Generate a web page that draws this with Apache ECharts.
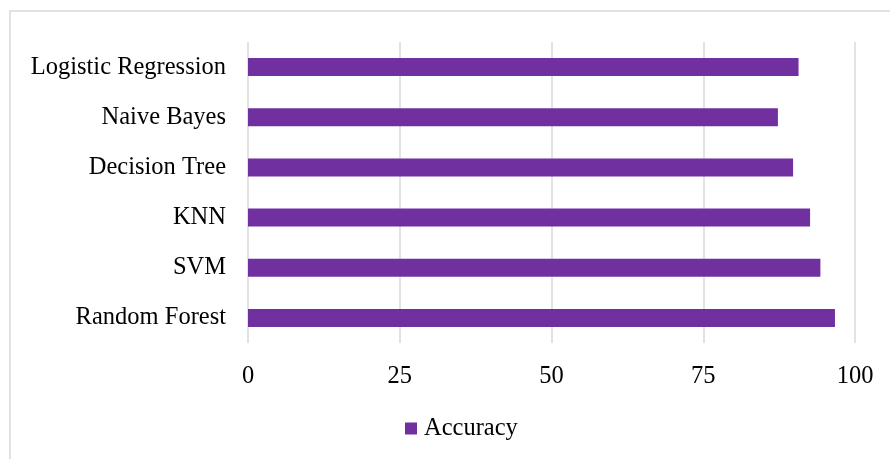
<!DOCTYPE html>
<html>
<head>
	<meta charset="UTF-8" />
	<title>Accuracy</title>
	<script src="https://cdn.jsdelivr.net/npm/echarts@6/dist/echarts.min.js"></script>
	<style type="text/css">
		html, body {
			margin: 0;
			padding: 0;
			background-color: #ffffff;
		}

		#chart {
			width: 890px;
			height: 459px;
		}
	</style>
</head>
<body>
	<div id="chart"></div>

	<script>
		// 資料
		const models = ['Random Forest', 'SVM', 'KNN', 'Decision Tree', 'Naive Bayes', 'Logistic Regression'];
		const accuracy = [96.7, 94.3, 92.6, 89.8, 87.3, 90.7];
		const xTicks = [0, 25, 50, 75, 100];

		const serif = '"Liberation Serif", "DejaVu Serif", serif';
		const purple = '#7030A0';
		const fs = 24.5;

		var chart = echarts.init(document.getElementById('chart'));

		chart.setOption({
			animation: false,
			textStyle: { fontFamily: serif },
			graphic: [{
				type: 'rect',
				shape: { x: 10, y: 11, width: 900, height: 460 },
				style: { fill: 'none', stroke: '#d9d9d9', lineWidth: 1.5 }
			}],
			grid: {
				left: 248,
				right: 35,
				top: 42,
				bottom: 116
			},
			legend: {
				top: 411,
				left: 400,
				itemWidth: 12,
				itemHeight: 12,
				itemGap: 10,
				icon: 'rect',
				textStyle: { fontFamily: serif, fontSize: fs, color: '#000', padding: [0, 0, 0, 2] },
				data: ['Accuracy']
			},
			xAxis: {
				type: 'value',
				min: xTicks[0],
				max: xTicks[xTicks.length - 1],
				interval: 25,
				axisLine: { show: false },
				axisTick: { show: false },
				axisLabel: { fontFamily: serif, fontSize: fs, color: '#000', margin: 21 },
				splitLine: { lineStyle: { color: '#d9d9d9', width: 1.5 } }
			},
			yAxis: {
				type: 'category',
				data: models,
				axisLine: { show: false },
				axisTick: { show: false },
				axisLabel: { fontFamily: serif, fontSize: fs, color: '#000', margin: 22 }
			},
			series: [{
				name: 'Accuracy',
				type: 'bar',
				data: accuracy,
				barWidth: 18,
				itemStyle: { color: purple }
			}]
		});
	</script>
</body>
</html>
